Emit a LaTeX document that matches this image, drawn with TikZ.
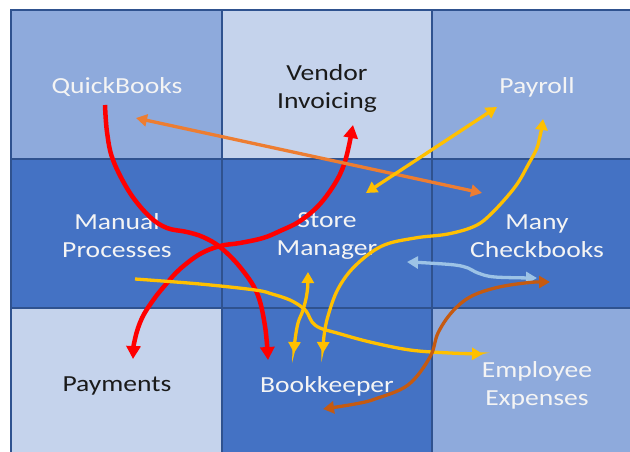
\documentclass[tikz,border=0pt]{standalone}
\usepackage{fontspec}
\setmainfont{Carlito}[FakeStretch=1.2]
\usetikzlibrary{arrows.meta}
\definecolor{cellLight}{HTML}{C5D3EC}
\definecolor{cellMid}{HTML}{8EAADC}
\definecolor{cellDark}{HTML}{4472C4}
\definecolor{gridLine}{HTML}{2F528F}
\definecolor{arRed}{HTML}{FF0000}
\definecolor{arYellow}{HTML}{FFC000}
\definecolor{arOrange}{HTML}{ED7D31}
\definecolor{arBrown}{HTML}{C55A11}
\definecolor{arBlue}{HTML}{9DC3E6}
\definecolor{txtWhite}{HTML}{F4F4F4}
\definecolor{txtDark}{HTML}{1A1A1A}
\begin{document}
\begin{tikzpicture}[x=1pt,y=-1pt,
  cell/.style={draw=gridLine, line width=1.5pt},
  lbl/.style={font=\fontsize{23}{28}\selectfont, align=center, inner sep=0pt},
  wlbl/.style={lbl, text=txtWhite},
  dlbl/.style={lbl, text=txtDark},
  redline/.style={draw=arRed, line width=4.5pt, -{Triangle[length=13pt,width=14pt]}},
  redtwo/.style={draw=arRed, line width=4.5pt, {Triangle[length=13pt,width=14pt]}-{Triangle[length=13pt,width=14pt]}},
  yelline/.style={draw=arYellow, line width=3.3pt, -{Triangle[length=11pt,width=12pt]}},
  yeltwo/.style={draw=arYellow, line width=3.3pt, {Triangle[length=11pt,width=12pt]}-{Triangle[length=11pt,width=12pt]}},
  ortwo/.style={draw=arOrange, line width=3.3pt, {Triangle[length=11pt,width=12pt]}-{Triangle[length=11pt,width=12pt]}},
  bluetwo/.style={draw=arBlue, line width=3.3pt, {Triangle[length=11pt,width=12pt]}-{Triangle[length=11pt,width=12pt]}},
  browntwo/.style={draw=arBrown, line width=3.3pt, {Triangle[length=11pt,width=12pt]}-{Triangle[length=11pt,width=12pt]}},
  crv/.style={smooth, tension=0.6}
]
\useasboundingbox (0,0) rectangle (630,452);
\fill[white] (0,0) rectangle (630,452);
\begin{scope}
\clip (0,0) rectangle (630,452);
\filldraw[cell, fill=cellMid]   (11,10)   rectangle (222,159);
\filldraw[cell, fill=cellLight] (222,10)  rectangle (432,159);
\filldraw[cell, fill=cellMid]   (432,10)  rectangle (642,159);
\filldraw[cell, fill=cellDark]  (11,159)  rectangle (222,308);
\filldraw[cell, fill=cellDark]  (222,159) rectangle (432,308);
\filldraw[cell, fill=cellDark]  (432,159) rectangle (642,308);
\filldraw[cell, fill=cellLight] (11,308)  rectangle (222,457);
\filldraw[cell, fill=cellDark]  (222,308) rectangle (432,457);
\filldraw[cell, fill=cellMid]   (432,308) rectangle (642,457);
\end{scope}

\node[wlbl] (quickbooks) at (117,87) {QuickBooks};
\node[dlbl] (vendor) at (327,88) {Vendor\\Invoicing};
\node[wlbl] (payroll) at (537,87) {Payroll};
\node[wlbl] (manual) at (117,236) {Manual\\Processes};
\node[wlbl] (store) at (327,236) {Store\\Manager};
\node[wlbl] (checkbooks) at (537,236) {Many\\Checkbooks};
\node[dlbl] (payments) at (117,386) {Payments};
\node[wlbl] (bookkeeper) at (327,386) {Bookkeeper};
\node[wlbl] (expenses) at (537,385) {Employee\\Expenses};

\coordinate (qbOut) at (105,105);
\coordinate (bkIn) at (268,360);
\coordinate (payIn) at (133,359);
\coordinate (vendIn) at (353,125);
\coordinate (qbOr) at (136,118);
\coordinate (mcOr) at (482,193);
\coordinate (smY) at (366,193);
\coordinate (prY) at (497,107);
\coordinate (prIn) at (543,119);
\coordinate (bkY) at (323,353);
\coordinate (mpOut) at (135,279);
\coordinate (eeIn) at (483,354);
\coordinate (smUp) at (308,272);
\coordinate (bkDown) at (294,353);
\coordinate (smBlue) at (407,262);
\coordinate (mcBlue) at (537,278);
\coordinate (mcBr) at (550,282);
\coordinate (bkBr) at (323,409);

% red arrows
\draw[redline] plot[crv] coordinates {(qbOut) (107,132) (113,160) (130,193) (150,217) (167,228) (187,232) (203,237) (220,247) (240,267) (257,293) (265,326) (bkIn)};
\draw[redtwo] plot[crv] coordinates {(payIn) (135,339) (142,318) (154,299) (167,283) (180,269) (200,254) (220,246) (240,243) (263,238) (280,231) (300,221) (320,204) (337,180) (346,158) (vendIn)};
% orange straight
\draw[ortwo] (qbOr) -- (mcOr);
% yellow straight
\draw[yeltwo] (smY) -- (prY);
% yellow payroll to bookkeeper
\draw[yeltwo] plot[crv] coordinates {(prIn) (538,145) (528,165) (515,187) (492,213) (475,226) (448,234) (415,238) (382,246) (355,266) (338,289) (328,316) (324,336) (bkY)};
% yellow manual to employee
\draw[yelline] plot[crv] coordinates {(mpOut) (200,284) (255,290) (272,294) (290,300) (303,308) (308,314) (312,322) (320,328) (337,333) (370,342) (410,350) (450,353) (eeIn)};
% yellow small double
\draw[yeltwo] plot[crv] coordinates {(smUp) (307,293) (303,310) (298,323) (295,340) (bkDown)};
% light blue
\draw[bluetwo] plot[crv] coordinates {(smBlue) (428,263) (455,265) (468,268) (478,273) (495,277) (mcBlue)};
% brown
\draw[browntwo] plot[crv] coordinates {(mcBr) (525,283) (495,288) (470,297) (452,312) (438,333) (430,357) (408,385) (375,399) (355,404) (bkBr)};
\end{tikzpicture}
\end{document}
